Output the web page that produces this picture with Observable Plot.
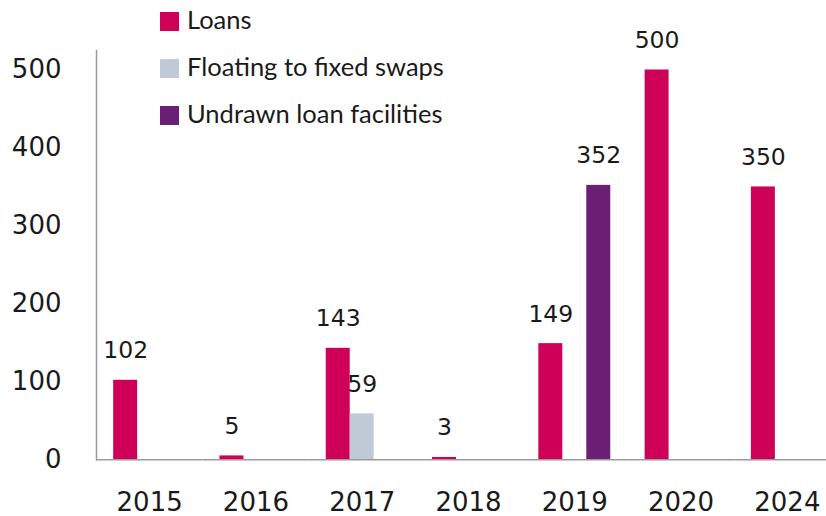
<!DOCTYPE html>
<html><head><meta charset="utf-8">
<script src="https://cdn.jsdelivr.net/npm/d3@7"></script>
<script src="https://cdn.jsdelivr.net/npm/@observablehq/plot@0.6"></script>
<style>
body{margin:0;background:#fff;}
#wrap{position:relative;width:826px;height:516px;overflow:hidden;}
#legend{position:absolute;left:160px;top:0;font-family:Lato,sans-serif;font-size:25.5px;color:#1a1a1a}
.item{position:absolute;left:0;display:flex;align-items:center;white-space:nowrap;height:30px;line-height:30px}
.sw{width:19px;height:19px;margin-right:8px;flex:none}
.tx{position:relative;top:-3px}
</style></head><body><div id="wrap"><div id="legend"></div></div>
<script>
const years = ["2015","2016","2017","2018","2019","2020","2024"];
const seriesNames = ["Loans","Floating to fixed swaps","Undrawn loan facilities"];
const seriesColors = ["#CF0058","#BFCAD6","#6A1F74"];
const loans = [102, 5, 143, 3, 149, 500, 350];
const swaps = [null, null, 59, null, null, null, null];
const undrawn = [null, null, null, null, 352, null, null];
const yTicks = [0, 100, 200, 300, 400, 500];

const seriesValues = [loans, swaps, undrawn];
const rows = [];
years.forEach((yr, i) => {
  seriesNames.forEach((s, j) => {
    const v = seriesValues[j][i];
    if (v != null) rows.push({year: yr, series: s, value: v});
  });
});

const axisColor = "#9a9a9a";
const chart = Plot.plot({
  width: 826, height: 516,
  marginTop: 50, marginBottom: 56.7, marginLeft: 96, marginRight: 0,
  style: {fontFamily: "DejaVu Sans", fontSize: "25px", color: "#1a1a1a", background: "transparent", overflow: "hidden"},
  fx: {domain: years, range: [96, 840], padding: 0, round: false, label: null},
  x: {domain: seriesNames, paddingInner: 0, paddingOuter: 0.716, round: false, axis: null},
  y: {domain: [0, 525]},
  color: {domain: seriesNames, range: seriesColors},
  marks: [
    Plot.axisY({ticks: yTicks, tickSize: 0, tickPadding: 35, label: null, fontSize: 26}),
    Plot.axisFx({anchor: "bottom", tickSize: 0, tickPadding: 33, label: null, fontSize: 26}),
    Plot.frame({anchor: "left", facetAnchor: "left", stroke: axisColor, strokeWidth: 1.5}),
    Plot.barY(rows, {fx: "year", x: "series", y: "value", fill: "series"}),
    Plot.ruleY([0], {stroke: axisColor, strokeWidth: 1.5}),
    Plot.text(rows, {fx: "year", x: "series", y: "value", text: d => String(d.value), lineAnchor: "bottom", dy: -22, fontSize: 23.5, fill: "#1a1a1a"})
  ]
});
const wrap = document.getElementById("wrap");
wrap.insertBefore(chart, wrap.firstChild);

const legend = document.getElementById("legend");
const legendTops = [6.5, 53.5, 100.5];
seriesNames.forEach((s, i) => {
  const it = document.createElement("div");
  it.className = "item";
  it.style.top = legendTops[i] + "px";
  const sw = document.createElement("span");
  sw.className = "sw";
  sw.style.background = seriesColors[i];
  const tx = document.createElement("span");
  tx.className = "tx";
  tx.textContent = s;
  it.appendChild(sw); it.appendChild(tx);
  legend.appendChild(it);
});
</script></body></html>
